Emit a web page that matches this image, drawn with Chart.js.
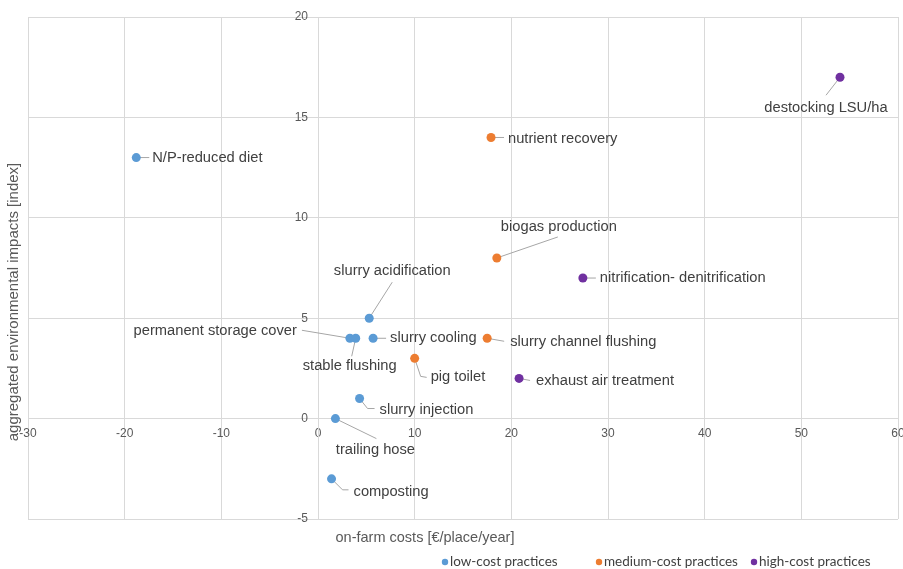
<!DOCTYPE html>
<html lang="en">
<head>
  <meta charset="UTF-8" />
  <title>Environmental impacts vs. on-farm costs</title>
  <script src="https://cdn.jsdelivr.net/npm/chart.js"></script>
  <style>
    html, body { margin: 0; padding: 0; background: #fff; }
    #wrap { width: 903px; height: 569px; }
  </style>
</head>
<body>
  <div id="wrap"><canvas id="chart"></canvas></div>

  <script>
    // low-cost practices
    const lowNames = ['N/P-reduced diet', 'slurry acidification', 'permanent storage cover', 'stable flushing',
                      'slurry cooling', 'slurry injection', 'trailing hose', 'composting'];
    const lowCost = [-18.8, 5.3, 3.3, 3.9, 5.7, 4.3, 1.8, 1.4];
    const lowImpact = [13, 5, 4, 4, 4, 1, 0, -3];

    // medium-cost practices
    const mediumNames = ['nutrient recovery', 'biogas production', 'slurry channel flushing', 'pig toilet'];
    const mediumCost = [17.9, 18.5, 17.5, 10.0];
    const mediumImpact = [14, 8, 4, 3];

    // high-cost practices
    const highNames = ['destocking LSU/ha', 'nitrification- denitrification', 'exhaust air treatment'];
    const highCost = [54, 27.4, 20.8];
    const highImpact = [17, 7, 2];

    const xTitle = 'on-farm costs [€/place/year]';
    const yTitle = 'aggregated environmental impacts [index]';

    // where each label sits relative to its dot (px): text [dx, dy, align], leader line points
    const labelPlacement = {
      'N/P-reduced diet':               { text: [16, 0, 'left'],    leader: [[13, 0]] },
      'slurry acidification':           { text: [23, -47, 'center'], leader: [[23, -36]] },
      'permanent storage cover':        { text: [-53, -7, 'right'], leader: [[-48, -8]] },
      'stable flushing':                { text: [-6, 28, 'center'], leader: [[-4, 18]] },
      'slurry cooling':                 { text: [17, 0, 'left'],    leader: [[13, 0]] },
      'slurry injection':               { text: [20, 11, 'left'],   leader: [[8, 10], [15, 10]] },
      'trailing hose':                  { text: [40, 31, 'center'], leader: [[41, 20]] },
      'composting':                     { text: [22, 13, 'left'],   leader: [[11, 11], [17, 11]] },
      'nutrient recovery':              { text: [17, 1, 'left'],    leader: [[13, 0]] },
      'biogas production':              { text: [62, -31, 'center'], leader: [[61, -21]] },
      'slurry channel flushing':        { text: [23, 4, 'left'],    leader: [[17, 3]] },
      'pig toilet':                     { text: [16, 19, 'left'],   leader: [[6, 18], [12, 19]] },
      'destocking LSU/ha':              { text: [-14, 31, 'center'], leader: [[-14, 18]] },
      'nitrification- denitrification': { text: [17, 0, 'left'],    leader: [[13, 0]] },
      'exhaust air treatment':          { text: [17, 3, 'left'],    leader: [[11, 2]] }
    };

    const toPoints = (names, xs, ys) => names.map((n, i) => ({ x: xs[i], y: ys[i], name: n }));

    const gridColor = '#d9d9d9';
    const tickColor = '#595959';
    const textColor = '#404040';
    const sans = '"Liberation Sans", Arial, sans-serif';

    const pointLabels = {
      id: 'pointLabels',
      beforeDatasetsDraw(chart) {
        const ctx = chart.ctx;
        ctx.save();
        ctx.strokeStyle = '#a6a6a6';
        ctx.lineWidth = 1;
        chart.data.datasets.forEach((ds, i) => {
          chart.getDatasetMeta(i).data.forEach((pt, j) => {
            const p = labelPlacement[ds.data[j].name];
            if (!p) return;
            ctx.beginPath();
            ctx.moveTo(pt.x, pt.y);
            p.leader.forEach(([dx, dy]) => ctx.lineTo(pt.x + dx, pt.y + dy));
            ctx.stroke();
          });
        });
        ctx.restore();
      },
      afterDatasetsDraw(chart) {
        const ctx = chart.ctx;
        ctx.save();
        ctx.font = '14.7px ' + sans;
        ctx.fillStyle = textColor;
        ctx.textBaseline = 'middle';
        chart.data.datasets.forEach((ds, i) => {
          chart.getDatasetMeta(i).data.forEach((pt, j) => {
            const p = labelPlacement[ds.data[j].name];
            if (!p) return;
            const [dx, dy, align] = p.text;
            ctx.textAlign = align;
            ctx.fillText(ds.data[j].name, pt.x + dx, pt.y + dy);
          });
        });
        ctx.restore();
      },
      afterDraw(chart) {
        const ctx = chart.ctx;
        ctx.save();
        // axis titles
        ctx.fillStyle = tickColor;
        ctx.textAlign = 'center';
        ctx.textBaseline = 'middle';
        ctx.font = '14.5px ' + sans;
        ctx.fillText(xTitle, 425, 538);
        ctx.font = '15px ' + sans;
        ctx.translate(14, 302);
        ctx.rotate(-Math.PI / 2);
        ctx.fillText(yTitle, 0, 0);
        ctx.restore();

        // legend
        ctx.save();
        ctx.font = '13.5px Lato, "Open Sans", sans-serif';
        ctx.textBaseline = 'middle';
        ctx.textAlign = 'left';
        const legendX = [445, 599, 754];
        chart.data.datasets.forEach((ds, i) => {
          ctx.fillStyle = ds.backgroundColor;
          ctx.beginPath();
          ctx.arc(legendX[i], 562, 3.2, 0, Math.PI * 2);
          ctx.fill();
          ctx.fillStyle = textColor;
          ctx.fillText(ds.label, legendX[i] + 5, 562);
        });
        ctx.restore();
      }
    };

    const dotStyle = { pointRadius: 4.5, pointHoverRadius: 4.5, borderWidth: 0 };

    new Chart(document.getElementById('chart'), {
      type: 'scatter',
      data: {
        datasets: [
          { label: 'low-cost practices', data: toPoints(lowNames, lowCost, lowImpact),
            backgroundColor: '#5b9bd5', ...dotStyle },
          { label: 'medium-cost practices', data: toPoints(mediumNames, mediumCost, mediumImpact),
            backgroundColor: '#ed7d31', ...dotStyle },
          { label: 'high-cost practices', data: toPoints(highNames, highCost, highImpact),
            backgroundColor: '#7030a0', ...dotStyle }
        ]
      },
      options: {
        responsive: true,
        maintainAspectRatio: false,
        animation: false,
        layout: { padding: { left: 28, right: 5, top: 17, bottom: 50 } },
        plugins: {
          legend: { display: false },
          tooltip: { enabled: false }
        },
        scales: {
          x: {
            type: 'linear',
            position: { y: 0 },
            min: -30, max: 60,
            ticks: { stepSize: 10, padding: 8, color: tickColor, font: { family: sans, size: 12 } },
            grid: { color: gridColor, drawTicks: false },
            border: { color: gridColor },
            afterFit: s => { s.paddingLeft = 0; s.paddingRight = 0; }
          },
          y: {
            type: 'linear',
            position: { x: 0 },
            min: -5, max: 20,
            // labels sit right-aligned on the crossing axis; trailing spaces give the gap
            ticks: { stepSize: 5, color: tickColor, font: { family: sans, size: 12 },
                     callback: v => v + '   ' },
            grid: { color: gridColor, drawTicks: false },
            border: { color: gridColor },
            afterFit: s => { s.paddingTop = 0; s.paddingBottom = 0; }
          }
        }
      },
      plugins: [pointLabels]
    });
  </script>
</body>
</html>
